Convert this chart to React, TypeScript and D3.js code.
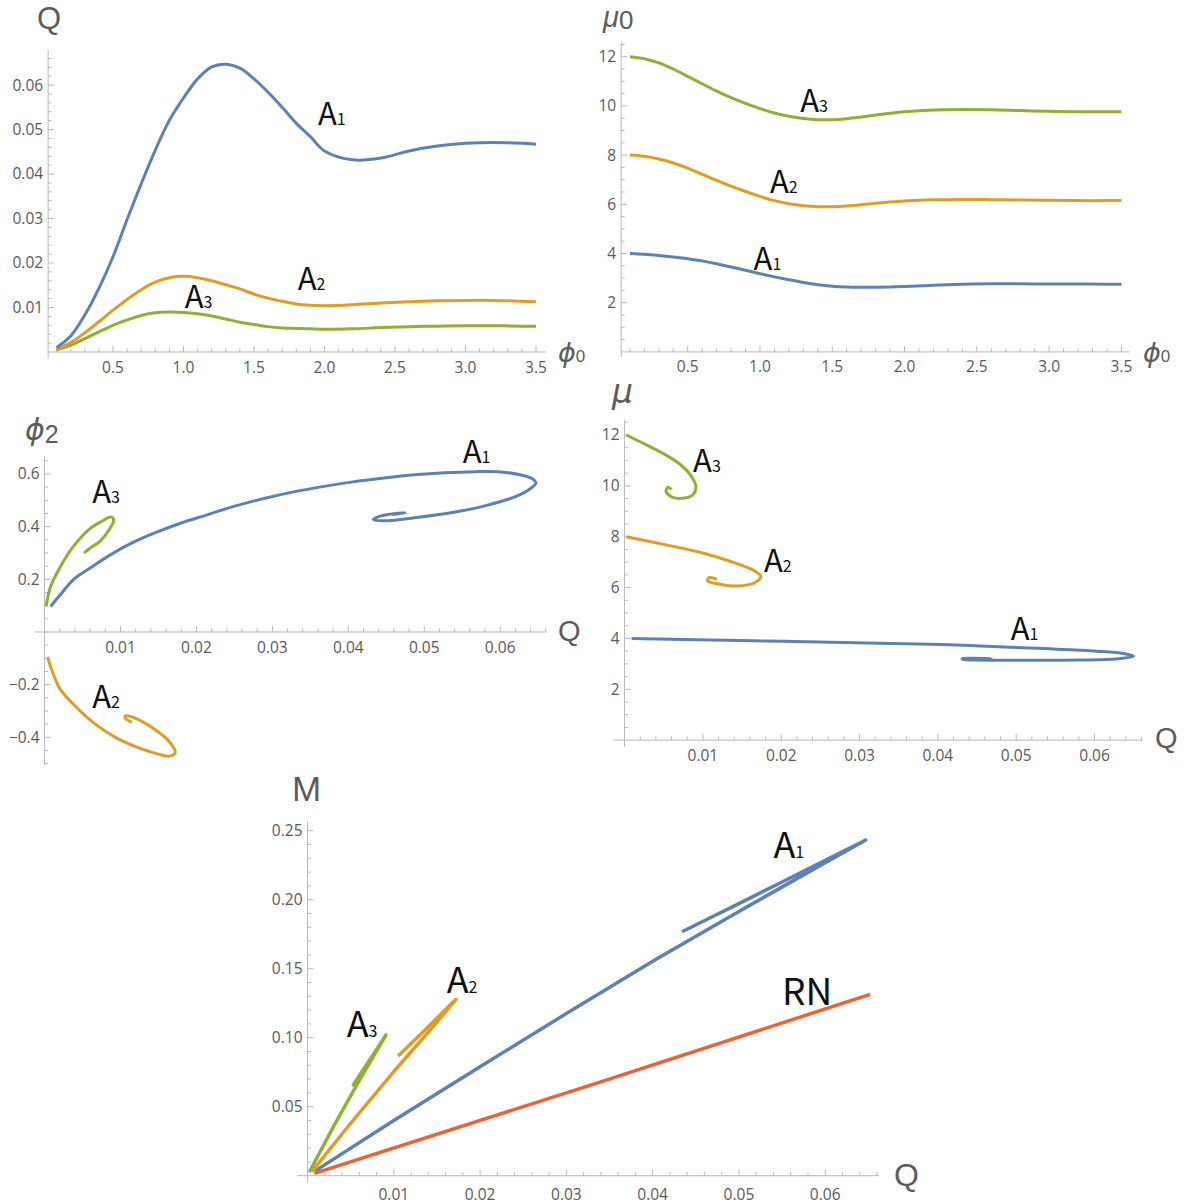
import React from 'react';
import * as d3 from 'd3';

// ---------- colours ----------
const C_A1 = '#5E81B5';
const C_A2 = '#E19C24';
const C_A3 = '#8FB131';
const C_RN = '#EB6235';

// ---------- panel 1 & 2 : functions of phi0 ----------
const phi0 = [0.1, 0.2, 0.3, 0.4, 0.5, 0.6, 0.7, 0.8, 0.9, 1.0, 1.1, 1.2, 1.3, 1.4, 1.5, 1.6, 1.7, 1.8, 1.9, 2.0, 2.2, 2.4, 2.6, 2.8, 3.0, 3.2, 3.4, 3.5];

const qA1 = [0.001, 0.0036, 0.0083, 0.0143, 0.0214, 0.0298, 0.0378, 0.0454, 0.0521, 0.0571, 0.0614, 0.0641, 0.0647, 0.0638, 0.0614, 0.0584, 0.055, 0.0514, 0.0484, 0.0452, 0.0432, 0.0436, 0.0452, 0.0463, 0.0469, 0.0471, 0.0469, 0.0467];
const qA2 = [0.0006, 0.0021, 0.0043, 0.0068, 0.0094, 0.0118, 0.014, 0.0157, 0.0167, 0.017, 0.0167, 0.016, 0.0151, 0.0142, 0.013, 0.0121, 0.0114, 0.0108, 0.0105, 0.0104, 0.0106, 0.011, 0.0113, 0.0115, 0.0116, 0.0116, 0.0114, 0.0113];
const qA3 = [0.0005, 0.0015, 0.003, 0.0045, 0.006, 0.0072, 0.0082, 0.0088, 0.009, 0.0089, 0.0086, 0.0081, 0.0074, 0.0067, 0.0062, 0.0057, 0.0054, 0.0053, 0.0052, 0.0051, 0.0052, 0.0055, 0.0057, 0.0058, 0.0059, 0.0059, 0.0058, 0.0058];

const mu0A1 = [4.0, 3.97, 3.92, 3.86, 3.79, 3.7, 3.58, 3.45, 3.32, 3.18, 3.05, 2.93, 2.82, 2.73, 2.67, 2.64, 2.63, 2.63, 2.64, 2.66, 2.71, 2.75, 2.77, 2.77, 2.76, 2.76, 2.75, 2.75];
const mu0A2 = [8.0, 7.95, 7.84, 7.68, 7.47, 7.22, 6.97, 6.74, 6.52, 6.32, 6.15, 6.02, 5.94, 5.9, 5.9, 5.93, 5.98, 6.04, 6.09, 6.13, 6.18, 6.2, 6.19, 6.17, 6.16, 6.15, 6.15, 6.15];
const mu0A3 = [12.0, 11.92, 11.75, 11.5, 11.2, 10.9, 10.6, 10.34, 10.1, 9.89, 9.71, 9.58, 9.49, 9.44, 9.44, 9.48, 9.55, 9.63, 9.7, 9.76, 9.83, 9.85, 9.84, 9.81, 9.78, 9.76, 9.76, 9.76];

// ---------- panel 3 : (Q, phi2) ----------
const phi2A1: [number, number][] = [[0.0008, 0.097], [0.0021, 0.142], [0.0038, 0.199], [0.006, 0.243], [0.0085, 0.29], [0.011, 0.331], [0.0145, 0.376], [0.018, 0.414], [0.0214, 0.445], [0.0249, 0.477], [0.0289, 0.507], [0.0328, 0.532], [0.0368, 0.553], [0.0408, 0.571], [0.0447, 0.585], [0.0487, 0.597], [0.0527, 0.605], [0.0567, 0.609], [0.0601, 0.608], [0.0626, 0.597], [0.0643, 0.581], [0.0647, 0.566], [0.0641, 0.547], [0.0621, 0.515], [0.0581, 0.48], [0.0537, 0.454], [0.0487, 0.434], [0.0445, 0.422], [0.0433, 0.427], [0.0442, 0.44], [0.0462, 0.45], [0.0475, 0.452], [0.0458, 0.446]];
const phi2A2: [number, number][] = [[0.0004, -0.095], [0.0011, -0.156], [0.0021, -0.219], [0.0041, -0.283], [0.0065, -0.346], [0.0095, -0.403], [0.0125, -0.441], [0.015, -0.464], [0.0164, -0.472], [0.0172, -0.458], [0.0163, -0.412], [0.014, -0.36], [0.012, -0.328], [0.0107, -0.318], [0.0106, -0.327], [0.0115, -0.343]];
const phi2A3: [number, number][] = [[0.0002, 0.097], [0.0008, 0.173], [0.0021, 0.249], [0.0038, 0.325], [0.0058, 0.388], [0.0075, 0.42], [0.0088, 0.437], [0.0091, 0.424], [0.0085, 0.388], [0.0073, 0.344], [0.006, 0.319], [0.0053, 0.302], [0.0059, 0.316]];

// ---------- panel 4 : (Q, mu) ----------
const muA1: [number, number][] = [[0.0009, 4.0], [0.0149, 3.92], [0.0294, 3.83], [0.039, 3.77], [0.044, 3.72], [0.0536, 3.6], [0.0603, 3.5], [0.0637, 3.41], [0.065, 3.3], [0.0628, 3.19], [0.058, 3.15], [0.05, 3.14], [0.0448, 3.15], [0.0432, 3.18], [0.0431, 3.21], [0.0445, 3.22], [0.0468, 3.21], [0.0455, 3.2]];
const muA2: [number, number][] = [[0.0002, 8.0], [0.0053, 7.68], [0.0101, 7.35], [0.014, 6.98], [0.0164, 6.69], [0.0174, 6.43], [0.0166, 6.19], [0.0144, 6.06], [0.012, 6.14], [0.0106, 6.26], [0.0108, 6.39], [0.0118, 6.33]];
const muA3: [number, number][] = [[0.0002, 12.0], [0.0028, 11.61], [0.0053, 11.21], [0.0072, 10.82], [0.0084, 10.43], [0.0091, 9.97], [0.0087, 9.64], [0.0074, 9.51], [0.006, 9.57], [0.0053, 9.77], [0.0055, 9.94], [0.006, 9.86]];

// ---------- panel 5 : (Q, M) ----------
const mA1: [number, number][] = [[0.0009, 0.0035], [0.01, 0.04], [0.02, 0.079], [0.03, 0.1175], [0.0403, 0.1565], [0.05, 0.1915], [0.058, 0.2198], [0.0647, 0.2433], [0.06, 0.2285], [0.055, 0.2128], [0.05, 0.1972], [0.0434, 0.1768]];
const mA2: [number, number][] = [[0.0005, 0.003], [0.005, 0.038], [0.01, 0.0755], [0.014, 0.104], [0.0172, 0.1278], [0.014, 0.108], [0.0115, 0.0928], [0.0105, 0.0867]];
const mA3: [number, number][] = [[0.0002, 0.0025], [0.003, 0.0355], [0.006, 0.069], [0.0091, 0.102], [0.0072, 0.0838], [0.0053, 0.0657], [0.006, 0.071]];
const mRN: [number, number][] = [[0.0008, 0.0017], [0.033, 0.066], [0.0652, 0.1314]];

// ---------- ticks ----------
const phiTicks = [0.5, 1.0, 1.5, 2.0, 2.5, 3.0, 3.5];
const qTicks = [0.01, 0.02, 0.03, 0.04, 0.05, 0.06];
const muTicks = [2, 4, 6, 8, 10, 12];
const phi2Ticks = [-0.4, -0.2, 0.2, 0.4, 0.6];
const mTicks = [0.05, 0.1, 0.15, 0.2, 0.25];

const FONT_TICK = '"Open Sans", "Liberation Sans", sans-serif';
const FONT_AX = '"Liberation Sans", Arial, sans-serif';
const FONT_GREEK = '"DejaVu Sans", sans-serif';
const FONT_LAB = '"Noto Sans CJK SC", "Noto Sans", sans-serif';
const AXIS_COL = '#b8b8b8';
const TICK_TXT = '#5a5a5a';
const AXLAB = '#5c5c5c';

const mk = (n0: number, n1: number, step: number) => d3.range(n0, n1 + 1).map((i) => +(i * step).toFixed(6));

type Sc = d3.ScaleLinear<number, number>;

function Axes(props: {
  x: Sc; y: Sc; xExt: [number, number]; yExt: [number, number];
  xAt: number; yAt: number;
  xMajor: number[]; xMinor: number[]; yMajor: number[]; yMinor: number[];
  xFmt: (v: number) => string; yFmt: (v: number) => string; xLabOff: number;
}) {
  const { x, y, xExt, yExt, xAt, yAt, xMajor, xMinor, yMajor, yMinor, xFmt, yFmt, xLabOff } = props;
  const ay = y(xAt);
  const ax = x(yAt);
  const near = (v: number, arr: number[]) => arr.some((a) => Math.abs(a - v) < 1e-9);
  return (
    <g>
      <line x1={x(xExt[0])} x2={x(xExt[1])} y1={ay} y2={ay} stroke={AXIS_COL} strokeWidth={1} />
      <line x1={ax} x2={ax} y1={y(yExt[0])} y2={y(yExt[1])} stroke={AXIS_COL} strokeWidth={1} />
      {xMinor.filter((v) => !near(v, xMajor) && v >= xExt[0] && v <= xExt[1]).map((v, i) => (
        <line key={'xm' + i} x1={x(v)} x2={x(v)} y1={ay} y2={ay - 3.5} stroke={AXIS_COL} strokeWidth={1} />
      ))}
      {xMajor.map((v, i) => (
        <g key={'xM' + i}>
          <line x1={x(v)} x2={x(v)} y1={ay} y2={ay - 6} stroke={AXIS_COL} strokeWidth={1} />
          <text x={x(v)} y={ay + xLabOff} textAnchor="middle" fontFamily={FONT_TICK} fontSize={15.5} fill={TICK_TXT}>{xFmt(v)}</text>
        </g>
      ))}
      {yMinor.filter((v) => !near(v, yMajor) && v >= yExt[0] && v <= yExt[1]).map((v, i) => (
        <line key={'ym' + i} x1={ax} x2={ax + 3.5} y1={y(v)} y2={y(v)} stroke={AXIS_COL} strokeWidth={1} />
      ))}
      {yMajor.map((v, i) => (
        <g key={'yM' + i}>
          <line x1={ax} x2={ax + 6} y1={y(v)} y2={y(v)} stroke={AXIS_COL} strokeWidth={1} />
          <text x={ax - 5} y={y(v)} dy="0.35em" textAnchor="end" fontFamily={FONT_TICK} fontSize={15.5} fill={TICK_TXT}>{yFmt(v)}</text>
        </g>
      ))}
    </g>
  );
}

function Curve({ pts, x, y, color, w = 3, smooth = true }: { pts: [number, number][]; x: Sc; y: Sc; color: string; w?: number; smooth?: boolean }) {
  const gen = d3.line<[number, number]>().x((d) => x(d[0])).y((d) => y(d[1]))
    .curve(smooth ? d3.curveCatmullRom.alpha(0.5) : d3.curveLinear);
  return <path d={gen(pts) || ''} fill="none" stroke={color} strokeWidth={w} strokeLinejoin="round" strokeLinecap="butt" />;
}

function Lab({ px, py, name, sub, size = 31 }: { px: number; py: number; name: string; sub: string; size?: number }) {
  return (
    <text x={px} y={py} fontFamily={FONT_LAB} fontSize={size} fill="#111">
      {name}<tspan fontSize={16}>{sub}</tspan>
    </text>
  );
}

const zip = (xs: number[], ys: number[]): [number, number][] => xs.map((v, i) => [v, ys[i]]);

export default function App() {
  const f2 = d3.format('.2f');
  const f1 = d3.format('.1f');
  const fi = d3.format('d');

  const x1 = d3.scaleLinear().domain([0.5, 3.5]).range([113, 536]);
  const y1 = d3.scaleLinear().domain([0.01, 0.06]).range([307.5, 85.1]);
  const x2 = d3.scaleLinear().domain([0.5, 3.5]).range([687.7, 1121.4]);
  const y2 = d3.scaleLinear().domain([2, 12]).range([302.7, 56.7]);
  const x3 = d3.scaleLinear().domain([0.01, 0.06]).range([120.5, 500.2]);
  const y3 = d3.scaleLinear().domain([-0.4, 0.6]).range([737.3, 474]);
  const x4 = d3.scaleLinear().domain([0.01, 0.06]).range([702.9, 1094.5]);
  const y4 = d3.scaleLinear().domain([2, 12]).range([689.3, 435]);
  const x5 = d3.scaleLinear().domain([0.01, 0.06]).range([393.8, 825.2]);
  const y5 = d3.scaleLinear().domain([0.05, 0.25]).range([1106.7, 830.7]);

  const phiMinor = mk(1, 35, 0.1);
  const qMinor = mk(1, 33, 0.002);

  return (
    <svg width={1184} height={1204} style={{ position: 'absolute', left: 0, top: 0, background: '#fff' }}>
      <rect width={1184} height={1204} fill="#fff" />

      {/* ---------- Panel 1 ---------- */}
      <Axes x={x1} y={y1} xExt={[0.04, 3.57]} yExt={[-0.0014, 0.0679]} xAt={0} yAt={0.04}
        xMajor={phiTicks} xMinor={phiMinor} yMajor={qTicks} yMinor={qMinor}
        xFmt={f1} yFmt={f2} xLabOff={21} />
      <Curve pts={zip(phi0, qA3)} x={x1} y={y1} color={C_A3} />
      <Curve pts={zip(phi0, qA2)} x={x1} y={y1} color={C_A2} />
      <Curve pts={zip(phi0, qA1)} x={x1} y={y1} color={C_A1} />
      <Lab px={x1(1.954)} py={y1(0.0510)} name="A" sub="1" />
      <Lab px={x1(1.81)} py={y1(0.0139)} name="A" sub="2" />
      <Lab px={x1(1.008)} py={y1(0.0099)} name="A" sub="3" />
      <text x={49} y={29} textAnchor="middle" fontFamily={FONT_AX} fontSize={31} fill={AXLAB}>Q</text>
      <text x={558} y={362} fontFamily={FONT_GREEK} fontSize={27} fill={AXLAB}>
        <tspan fontStyle="italic">ϕ</tspan><tspan fontSize={17} fontFamily={FONT_AX}>0</tspan>
      </text>

      {/* ---------- Panel 2 ---------- */}
      <Axes x={x2} y={y2} xExt={[0.04, 3.557]} yExt={[-0.2, 12.61]} xAt={0} yAt={0.04}
        xMajor={phiTicks} xMinor={phiMinor} yMajor={muTicks} yMinor={mk(1, 25, 0.5)}
        xFmt={f1} yFmt={fi} xLabOff={20} />
      <Curve pts={zip(phi0, mu0A3)} x={x2} y={y2} color={C_A3} />
      <Curve pts={zip(phi0, mu0A2)} x={x2} y={y2} color={C_A2} />
      <Curve pts={zip(phi0, mu0A1)} x={x2} y={y2} color={C_A1} />
      <Lab px={x2(1.278)} py={y2(9.76)} name="A" sub="3" />
      <Lab px={x2(1.069)} py={y2(6.46)} name="A" sub="2" />
      <Lab px={x2(0.956)} py={y2(3.33)} name="A" sub="1" />
      <text x={603} y={26.5} fontFamily={FONT_AX} fontSize={29} fill={AXLAB}>
        <tspan fontStyle="italic">μ</tspan><tspan fontSize={26} dy={2} fontFamily={FONT_AX}>0</tspan>
      </text>
      <text x={1143} y={362} fontFamily={FONT_GREEK} fontSize={27} fill={AXLAB}>
        <tspan fontStyle="italic">ϕ</tspan><tspan fontSize={17} fontFamily={FONT_AX}>0</tspan>
      </text>

      {/* ---------- Panel 3 ---------- */}
      <Axes x={x3} y={y3} xExt={[-0.00135, 0.0661]} yExt={[-0.505, 0.667]} xAt={0} yAt={0}
        xMajor={qTicks} xMinor={qMinor} yMajor={phi2Ticks} yMinor={mk(-10, 13, 0.05)}
        xFmt={f2} yFmt={f1} xLabOff={21} />
      <Curve pts={phi2A1} x={x3} y={y3} color={C_A1} />
      <Curve pts={phi2A3} x={x3} y={y3} color={C_A3} />
      <Curve pts={phi2A2} x={x3} y={y3} color={C_A2} />
      <Lab px={x3(0.05506)} py={y3(0.642)} name="A" sub="1" />
      <Lab px={x3(0.00628)} py={y3(0.49)} name="A" sub="3" />
      <Lab px={x3(0.00628)} py={y3(-0.289)} name="A" sub="2" />
      <text x={25} y={440} fontFamily={FONT_GREEK} fontSize={30} fill={AXLAB}>
        <tspan fontStyle="italic">ϕ</tspan><tspan fontSize={25} dy={3} fontFamily={FONT_AX}>2</tspan>
      </text>
      <text x={558} y={641} fontFamily={FONT_AX} fontSize={29} fill={AXLAB}>Q</text>

      {/* ---------- Panel 4 ---------- */}
      <Axes x={x4} y={y4} xExt={[-0.00141, 0.0662]} yExt={[-0.26, 12.59]} xAt={0} yAt={0}
        xMajor={qTicks} xMinor={qMinor} yMajor={muTicks} yMinor={mk(1, 25, 0.5)}
        xFmt={f2} yFmt={fi} xLabOff={21} />
      <Curve pts={muA1} x={x4} y={y4} color={C_A1} />
      <Curve pts={muA2} x={x4} y={y4} color={C_A2} />
      <Curve pts={muA3} x={x4} y={y4} color={C_A3} />
      <Lab px={x4(0.00874)} py={y4(10.56)} name="A" sub="3" />
      <Lab px={x4(0.0178)} py={y4(6.63)} name="A" sub="2" />
      <Lab px={x4(0.0493)} py={y4(3.94)} name="A" sub="1" />
      <text x={612} y={403} fontFamily={FONT_GREEK} fontStyle="italic" fontSize={33} fill={AXLAB}>μ</text>
      <text x={1155} y={748} fontFamily={FONT_AX} fontSize={29} fill={AXLAB}>Q</text>

      {/* ---------- Panel 5 ---------- */}
      <Axes x={x5} y={y5} xExt={[-0.00122, 0.0662]} yExt={[-0.0053, 0.2565]} xAt={0} yAt={0}
        xMajor={qTicks} xMinor={qMinor} yMajor={mTicks} yMinor={mk(1, 25, 0.01)}
        xFmt={f2} yFmt={f2} xLabOff={24} />
      <Curve pts={mRN} x={x5} y={y5} color={C_RN} w={3.5} smooth={false} />
      <Curve pts={mA1} x={x5} y={y5} color={C_A1} w={3.5} smooth={false} />
      <Curve pts={mA2} x={x5} y={y5} color={C_A2} w={3.5} smooth={false} />
      <Curve pts={mA3} x={x5} y={y5} color={C_A3} w={3.5} smooth={false} />
      <Lab px={x5(0.054)} py={y5(0.23)} name="A" sub="1" size={36} />
      <Lab px={x5(0.01613)} py={y5(0.1322)} name="A" sub="2" size={36} />
      <Lab px={x5(0.00454)} py={y5(0.1007)} name="A" sub="3" size={36} />
      <text x={x5(0.055)} y={y5(0.1237)} fontFamily={FONT_LAB} fontSize={37} fill="#111">RN</text>
      <text x={292} y={801} fontFamily={FONT_AX} fontSize={35} fill={AXLAB}>M</text>
      <text x={894} y={1186} fontFamily={FONT_AX} fontSize={32} fill={AXLAB}>Q</text>
    </svg>
  );
}
